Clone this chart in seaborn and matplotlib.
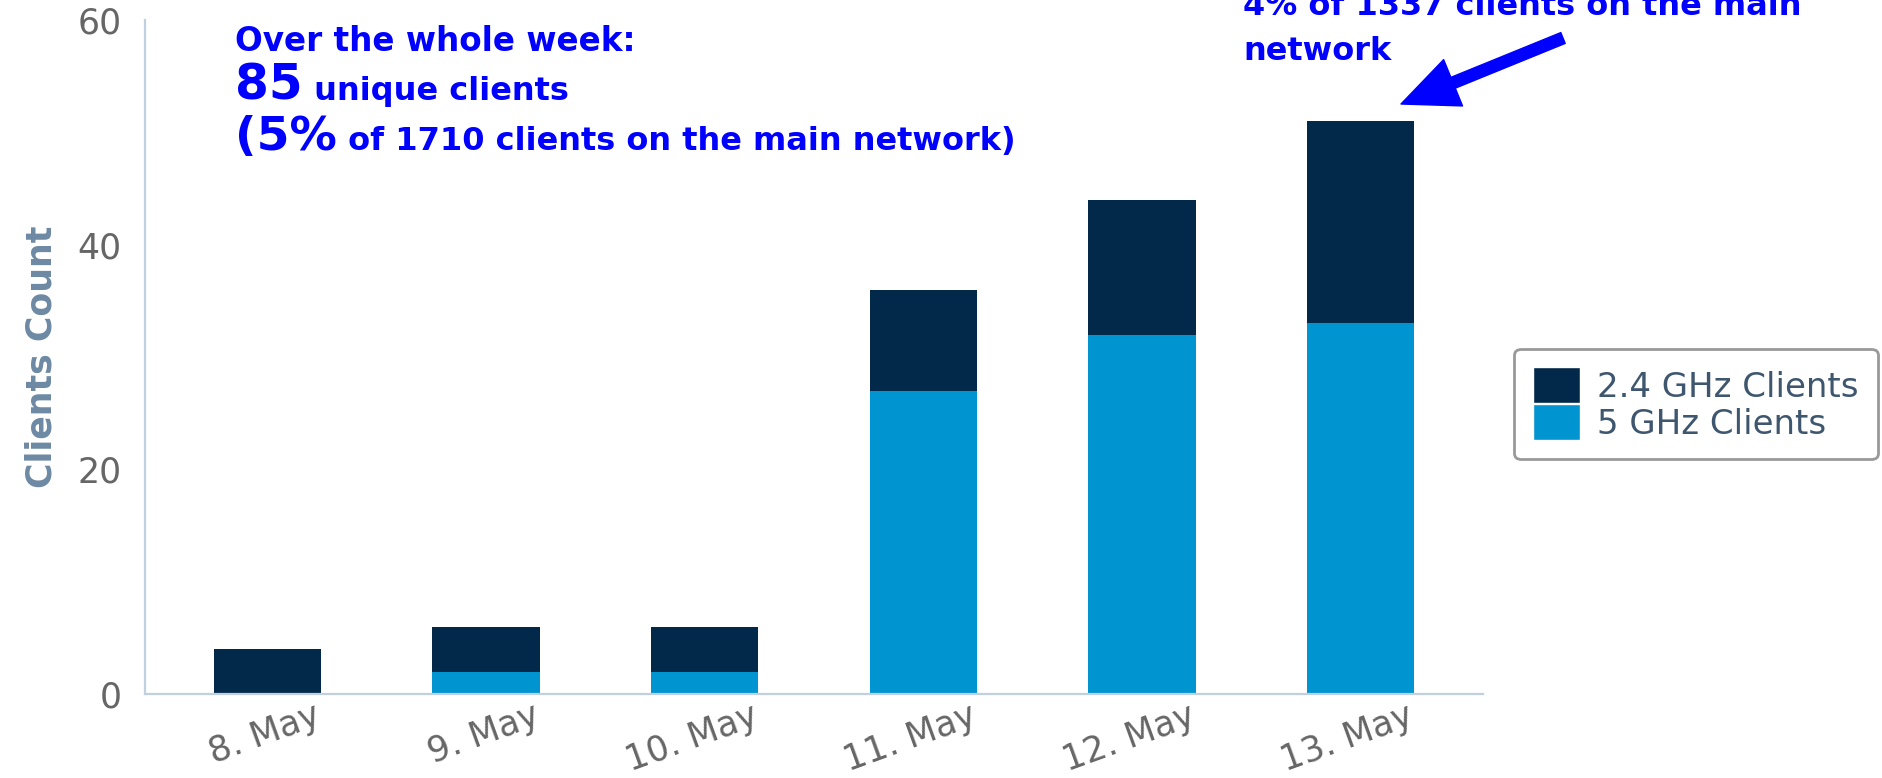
import matplotlib
import matplotlib.pyplot as plt
import matplotlib.transforms as mtransforms
from matplotlib.patches import Patch
import pandas as pd
import seaborn as sns

# data
days = ['8. May', '9. May', '10. May', '11. May', '12. May', '13. May']
ghz24_clients = [4, 4, 4, 9, 12, 18]
ghz5_clients = [0, 2, 2, 27, 32, 33]
y_ticks = [0, 20, 40, 60]

W, H = 1883, 778
DARK = '#02294a'
LIGHT = '#0094d1'
AXIS_COL = '#c0d0e0'
NOTE_COL = '#0000ff'


def px(x, y):
    # pixel position (from top-left) -> figure fraction
    return x / W, 1 - y / H


def note_line(fig, parts, x, y):
    # draw a line of text made of (text, size) pieces, one after the other
    renderer = fig.canvas.get_renderer()
    for txt, size in parts:
        t = fig.text(*px(x, y), txt, fontsize=size, fontweight='bold',
                     color=NOTE_COL, va='baseline', ha='left')
        x = t.get_window_extent(renderer).x1
    return x


if __name__ == "__main__":
    matplotlib.use('Agg')
    sns.set_style('white')
    plt.rcParams['font.family'] = ['DejaVu Sans']

    df = pd.DataFrame({'day': days, 'ghz24': ghz24_clients, 'ghz5': ghz5_clients})
    df['total'] = df['ghz24'] + df['ghz5']

    fig = plt.figure(figsize=(W / 100, H / 100), dpi=100)
    ax = fig.add_axes([145 / W, 84 / H, 1338 / W, 674 / H])

    # stacked bars: full total in dark, 5 GHz part drawn over it from 0
    sns.barplot(data=df, x='day', y='total', color=DARK, saturation=1,
                width=0.49, errorbar=None, linewidth=0, ax=ax)
    sns.barplot(data=df, x='day', y='ghz5', color=LIGHT, saturation=1,
                width=0.49, errorbar=None, linewidth=0, ax=ax)

    ax.set_ylim(0, 60)
    ax.set_xlim(-0.56, len(days) - 0.44)
    ax.set_yticks(y_ticks)
    ax.set_xlabel('')
    ax.set_ylabel('Clients Count', fontsize=25, fontweight='bold', color='#6d89a3')
    ax.yaxis.label.set_va('center')
    ax.yaxis.set_label_coords((42 - 145) / 1338, 0.5)

    sns.despine(ax=ax)
    for side in ['left', 'bottom']:
        ax.spines[side].set_color(AXIS_COL)
        ax.spines[side].set_linewidth(1.6)

    ax.tick_params(axis='y', length=0, pad=17, labelsize=25, labelcolor='#666666')
    ax.tick_params(axis='x', length=9, width=1, color=AXIS_COL, pad=0,
                   labelsize=25, labelcolor='#666666')
    offset = mtransforms.ScaledTranslation(46 / 100, 8 / 100, fig.dpi_scale_trans)
    for lab in ax.get_xticklabels():
        lab.set_rotation(20)
        lab.set_ha('right')
        lab.set_va('top')
        lab.set_rotation_mode('anchor')
        lab.set_transform(lab.get_transform() + offset)

    handles = [Patch(facecolor=DARK), Patch(facecolor=LIGHT)]
    leg = fig.legend(handles, ['2.4 GHz Clients', '5 GHz Clients'],
                     loc='center left', bbox_to_anchor=px(1514, 404),
                     borderaxespad=0, fontsize=24.5, handlelength=1.4,
                     handleheight=1.25, handletextpad=0.5, labelspacing=0.02,
                     borderpad=0.55, fancybox=True, framealpha=1,
                     edgecolor='#999999')
    leg.get_frame().set_linewidth(2)
    for t in leg.get_texts():
        t.set_color('#3e576f')

    # hand-written notes
    note_line(fig, [('Over the whole week:', 23.5)], 235, 51)
    note_line(fig, [('85', 35), (' unique clients', 23)], 235, 100)
    note_line(fig, [('(5%', 34), (' of 1710 clients on the main network)', 23)], 235, 150)
    note_line(fig, [('4% of 1337 clients on the main', 23)], 1243, 15)
    note_line(fig, [('network', 23)], 1243, 60)

    ax.annotate('', xy=px(1401, 104), xytext=px(1563, 38),
                xycoords='figure fraction', textcoords='figure fraction',
                arrowprops=dict(arrowstyle='simple,head_length=1.35,head_width=1.2,tail_width=0.28',
                                color=NOTE_COL, mutation_scale=30,
                                shrinkA=0, shrinkB=0))

    plt.savefig('out.png', dpi=100)
